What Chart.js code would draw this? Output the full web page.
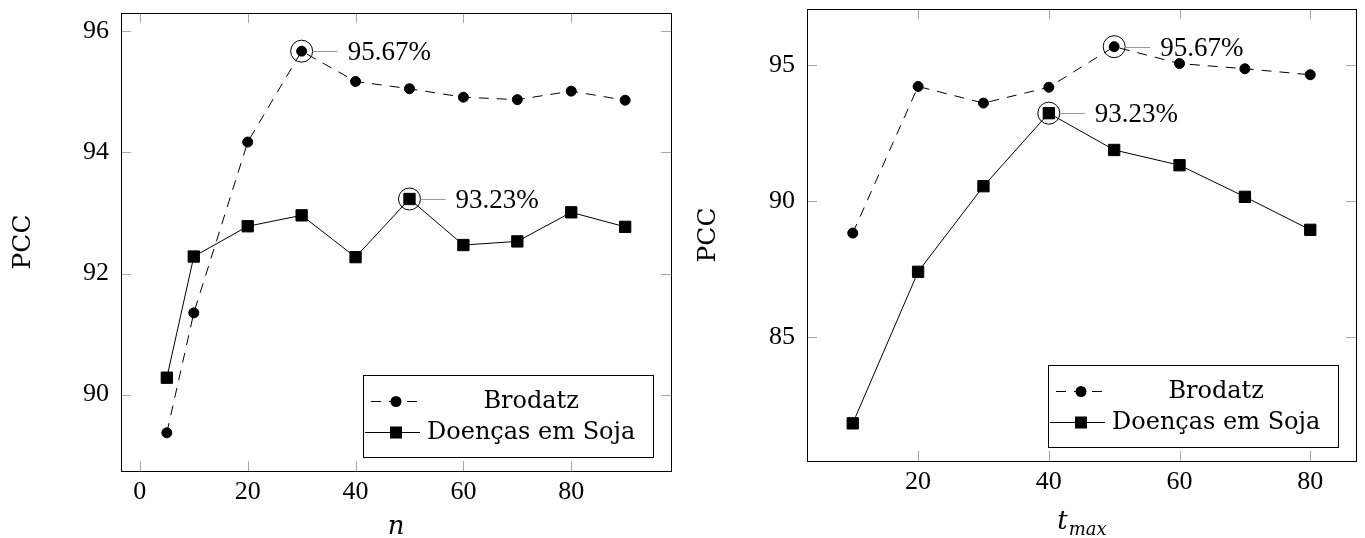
<!DOCTYPE html>
<html>
<head>
<meta charset="utf-8" />
<title>PCC</title>
<script src="https://cdn.jsdelivr.net/npm/chart.js"></script>
<style>
  body, html { margin: 0; padding: 0; background: #fff; }
  #wrap { position: relative; width: 1365px; height: 538px; }
  canvas { position: absolute; top: 0; }
</style>
</head>
<body>
<div id="wrap">
  <canvas id="chartN" width="680" height="538" style="left:0px"></canvas>
  <canvas id="chartT" width="685" height="538" style="left:680px"></canvas>
</div>
<script>
// left chart: PCC x n
const nValues = [5, 10, 20, 30, 40, 50, 60, 70, 80, 90];
const nBrodatz = [89.37, 91.35, 94.17, 95.67, 95.17, 95.05, 94.91, 94.87, 95.01, 94.86];
const nSoja = [90.28, 92.28, 92.78, 92.96, 92.27, 93.23, 92.47, 92.53, 93.01, 92.77];
const nXTicks = [0, 20, 40, 60, 80];
const nYTicks = [90, 92, 94, 96];

// right chart: PCC x t_max
const tValues = [10, 20, 30, 40, 50, 60, 70, 80];
const tBrodatz = [88.83, 94.21, 93.60, 94.18, 95.67, 95.05, 94.86, 94.64];
const tSoja = [81.85, 87.41, 90.55, 93.23, 91.88, 91.32, 90.16, 88.95];
const tXTicks = [20, 40, 60, 80];
const tYTicks = [85, 90, 95];

const seriesNames = ['Brodatz', 'Doenças em Soja'];

const numFont = "'Liberation Serif', 'Times New Roman', serif";
const textFont = "'DejaVu Serif', serif";

// pgfplots style: limits enlarged by 10% of the data range
function enlarge(values) {
  const lo = Math.min(...values), hi = Math.max(...values);
  const pad = (hi - lo) * 0.1;
  return { min: lo - pad, max: hi + pad };
}

function points(xs, ys) {
  return xs.map((x, i) => ({ x: x, y: ys[i] }));
}

// box around the plot + small ticks pointing inwards
const framePlugin = {
  id: 'frame',
  beforeDatasetsDraw(chart) {
    const { ctx, chartArea: a, scales } = chart;
    const tl = 10;
    ctx.save();
    ctx.strokeStyle = '#a8a8a8';
    ctx.lineWidth = 1;
    ctx.beginPath();
    scales.x.ticks.forEach(t => {
      const px = Math.round(scales.x.getPixelForValue(t.value)) + 0.5;
      ctx.moveTo(px, a.bottom); ctx.lineTo(px, a.bottom - tl);
      ctx.moveTo(px, a.top); ctx.lineTo(px, a.top + tl);
    });
    scales.y.ticks.forEach(t => {
      const py = Math.round(scales.y.getPixelForValue(t.value)) + 0.5;
      ctx.moveTo(a.left, py); ctx.lineTo(a.left + tl, py);
      ctx.moveTo(a.right, py); ctx.lineTo(a.right - tl, py);
    });
    ctx.stroke();
    ctx.strokeStyle = '#000';
    ctx.strokeRect(Math.round(a.left) + 0.5, Math.round(a.top) + 0.5,
      Math.round(a.right - a.left), Math.round(a.bottom - a.top));
    ctx.restore();
  }
};

// circle + label on the best value of each series
const peakPlugin = {
  id: 'peak',
  afterDatasetsDraw(chart) {
    const ctx = chart.ctx;
    chart.data.datasets.forEach((ds, di) => {
      const ys = ds.data.map(p => p.y);
      const idx = ys.indexOf(Math.max(...ys));
      const el = chart.getDatasetMeta(di).data[idx];
      ctx.save();
      ctx.strokeStyle = '#000';
      ctx.lineWidth = 1;
      ctx.beginPath();
      ctx.arc(el.x, el.y, 11, 0, 2 * Math.PI);
      ctx.stroke();
      ctx.strokeStyle = '#999';
      ctx.beginPath();
      ctx.moveTo(el.x + 11, Math.round(el.y) + 0.5);
      ctx.lineTo(el.x + 36, Math.round(el.y) + 0.5);
      ctx.stroke();
      ctx.fillStyle = '#000';
      ctx.font = '27px ' + numFont;
      ctx.textBaseline = 'middle';
      ctx.fillText(ys[idx].toFixed(2) + '%', el.x + 46, el.y + 2);
      ctx.restore();
    });
  }
};

// legend box in the lower right corner
const legendPlugin = {
  id: 'boxLegend',
  afterDatasetsDraw(chart) {
    const { ctx, chartArea: a } = chart;
    ctx.save();
    ctx.font = '24px ' + textFont;
    const tw = Math.max(...chart.data.datasets.map(d => ctx.measureText(d.label).width));
    const w = Math.round(tw + 82), h = 82;
    const left = Math.round(a.right - 18 - w), top = Math.round(a.bottom - 14 - h);
    ctx.fillStyle = '#fff';
    ctx.fillRect(left, top, w, h);
    ctx.strokeStyle = '#000';
    ctx.lineWidth = 1;
    ctx.strokeRect(left + 0.5, top + 0.5, w, h);
    chart.data.datasets.forEach((ds, i) => {
      const cy = top + 26 + i * 31;
      ctx.strokeStyle = '#000';
      ctx.setLineDash(ds.borderDash || []);
      ctx.lineDashOffset = -6;
      ctx.beginPath();
      ctx.moveTo(left + 2, cy + 0.5);
      ctx.lineTo(left + 57, cy + 0.5);
      ctx.stroke();
      ctx.setLineDash([]);
      ctx.fillStyle = '#000';
      if (ds.pointStyle === 'rect') {
        ctx.fillRect(left + 27, cy - 5.5, 12, 12);
      } else {
        ctx.beginPath();
        ctx.arc(left + 33, cy + 0.5, 5.5, 0, 2 * Math.PI);
        ctx.fill();
      }
      ctx.textAlign = 'center';
      ctx.textBaseline = 'middle';
      ctx.fillText(ds.label, left + 64 + tw / 2, cy + 1);
    });
    ctx.restore();
  }
};

// t_max axis title (subscript)
const subTitlePlugin = {
  id: 'subTitle',
  afterDraw(chart, args, opts) {
    if (!opts.main) return;
    const { ctx, chartArea: a } = chart;
    ctx.save();
    ctx.fillStyle = '#000';
    ctx.textBaseline = 'alphabetic';
    ctx.font = 'italic 26px ' + textFont;
    const w1 = ctx.measureText(opts.main).width;
    ctx.font = 'italic 18px ' + textFont;
    const w2 = ctx.measureText(opts.sub).width;
    const x0 = (a.left + a.right) / 2 - (w1 + w2) / 2;
    ctx.font = 'italic 26px ' + textFont;
    ctx.fillText(opts.main, x0, 529);
    ctx.font = 'italic 18px ' + textFont;
    ctx.fillText(opts.sub, x0 + w1 + 1, 535);
    ctx.restore();
  }
};

function makeChart(id, xs, brod, soja, xTicks, yTicks, plot, titleGap, xTitle, xSub) {
  const canvas = document.getElementById(id);
  const W = canvas.width, H = canvas.height;
  const xr = enlarge(xs);
  const yr = enlarge(brod.concat(soja));
  return new Chart(canvas.getContext('2d'), {
    type: 'line',
    data: {
      datasets: [
        {
          label: seriesNames[0],
          data: points(xs, brod),
          borderColor: '#000',
          borderWidth: 1,
          borderDash: [10, 8],
          pointStyle: 'circle',
          pointRadius: 5,
          pointBackgroundColor: '#000',
          pointBorderColor: '#000',
          pointBorderWidth: 1,
          fill: false,
          tension: 0,
          clip: false
        },
        {
          label: seriesNames[1],
          data: points(xs, soja),
          borderColor: '#000',
          borderWidth: 1,
          pointStyle: 'rect',
          pointRadius: 8,
          pointBackgroundColor: '#000',
          pointBorderColor: '#000',
          pointBorderWidth: 1,
          fill: false,
          tension: 0,
          clip: false
        }
      ]
    },
    options: {
      responsive: false,
      animation: false,
      devicePixelRatio: 1,
      layout: { padding: { top: plot.top, right: W - plot.right, bottom: 0, left: 0 } },
      plugins: {
        legend: { display: false },
        tooltip: { enabled: false },
        subTitle: xSub ? { main: xTitle, sub: xSub } : {}
      },
      scales: {
        x: {
          type: 'linear',
          min: xr.min,
          max: xr.max,
          grid: { display: false, drawTicks: false },
          border: { display: false },
          afterBuildTicks: s => { s.ticks = xTicks.map(v => ({ value: v })); },
          afterFit: s => { s.height = H - plot.bottom; s.paddingLeft = 0; s.paddingRight = 0; },
          ticks: { padding: 6, color: '#000', font: { family: numFont, size: 26 } },
          title: {
            display: !xSub,
            text: xTitle,
            color: '#000',
            padding: 0,
            font: { family: textFont, size: 26, style: 'italic', lineHeight: 0.8 }
          }
        },
        y: {
          min: yr.min,
          max: yr.max,
          grid: { display: false, drawTicks: false },
          border: { display: false },
          afterBuildTicks: s => { s.ticks = yTicks.map(v => ({ value: v })); },
          afterFit: s => { s.width = plot.left; s.paddingTop = 0; s.paddingBottom = 0; },
          ticks: { padding: 12, color: '#000', font: { family: numFont, size: 26 } },
          title: {
            display: true,
            text: 'PCC',
            color: '#000',
            padding: { top: titleGap, bottom: 0 },
            font: { family: textFont, size: 25, lineHeight: 1.2 }
          }
        }
      }
    },
    plugins: [framePlugin, peakPlugin, legendPlugin, subTitlePlugin]
  });
}

makeChart('chartN', nValues, nBrodatz, nSoja, nXTicks, nYTicks,
  { left: 121, top: 13, right: 673, bottom: 471 }, 8, 'n', null);
makeChart('chartT', tValues, tBrodatz, tSoja, tXTicks, tYTicks,
  { left: 127, top: 5, right: 680, bottom: 461 }, 13.5, 't', 'max');
</script>
</body>
</html>
